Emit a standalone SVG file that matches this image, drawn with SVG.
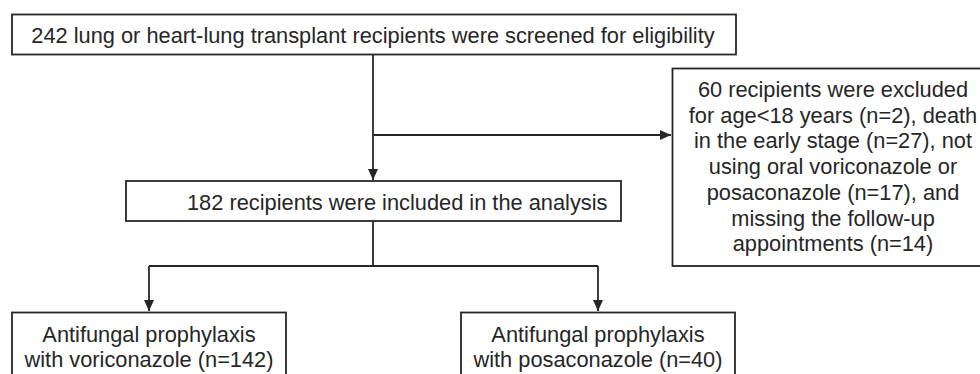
<svg xmlns="http://www.w3.org/2000/svg" width="980" height="374" viewBox="0 0 980 374">
<style>
.box{fill:#fff;stroke:#262626;stroke-width:1.8}
.t{font-family:"Liberation Sans",Arial,sans-serif;font-size:21.8px;fill:#262626}
.c{text-anchor:middle}
.ln{fill:none;stroke:#262626;stroke-width:1.8}
</style>
<defs>
<marker id="ah" markerUnits="userSpaceOnUse" markerWidth="12" markerHeight="12" viewBox="0 0 12 12" refX="11" refY="6" orient="auto">
<path d="M0,1 L11,6 L0,11 Z" fill="#262626"/>
</marker>
</defs>
<rect width="980" height="374" fill="#fff"/>
<g id="connectors">
<path class="ln" d="M373,54 V180" marker-end="url(#ah)"/>
<path class="ln" d="M373,135 H671" marker-end="url(#ah)"/>
<path class="ln" d="M373,221 V266 M149,266 H598"/>
<path class="ln" d="M149,266 V311" marker-end="url(#ah)"/>
<path class="ln" d="M598,266 V311" marker-end="url(#ah)"/>
</g>
<g id="screened">
<rect class="box" x="12" y="14.5" width="724" height="40"/>
<text class="t c" x="373" y="43">242 lung or heart-lung transplant recipients were screened for eligibility</text>
</g>
<g id="excluded">
<rect class="box" x="672.5" y="68.5" width="330" height="197.5"/>
<text class="t c" x="833" y="97">60 recipients were excluded</text>
<text class="t c" x="833" y="122.7">for age&lt;18 years (n=2), death</text>
<text class="t c" x="833" y="148.4">in the early stage (n=27), not</text>
<text class="t c" x="833" y="174.1">using oral voriconazole or</text>
<text class="t c" x="833" y="199.8">posaconazole (n=17), and</text>
<text class="t c" x="833" y="225.5">missing the follow-up</text>
<text class="t c" x="833" y="251.2">appointments (n=14)</text>
</g>
<g id="included">
<rect class="box" x="126" y="181" width="495" height="40"/>
<text class="t" x="187" y="210">182 recipients were included in the analysis</text>
</g>
<g id="voriconazole">
<rect class="box" x="12" y="312.5" width="274" height="90"/>
<text class="t c" x="149" y="342">Antifungal prophylaxis</text>
<text class="t c" x="149" y="367">with voriconazole (n=142)</text>
</g>
<g id="posaconazole">
<rect class="box" x="461" y="312.5" width="274" height="90"/>
<text class="t c" x="598" y="342">Antifungal prophylaxis</text>
<text class="t c" x="598" y="367">with posaconazole (n=40)</text>
</g>
</svg>
